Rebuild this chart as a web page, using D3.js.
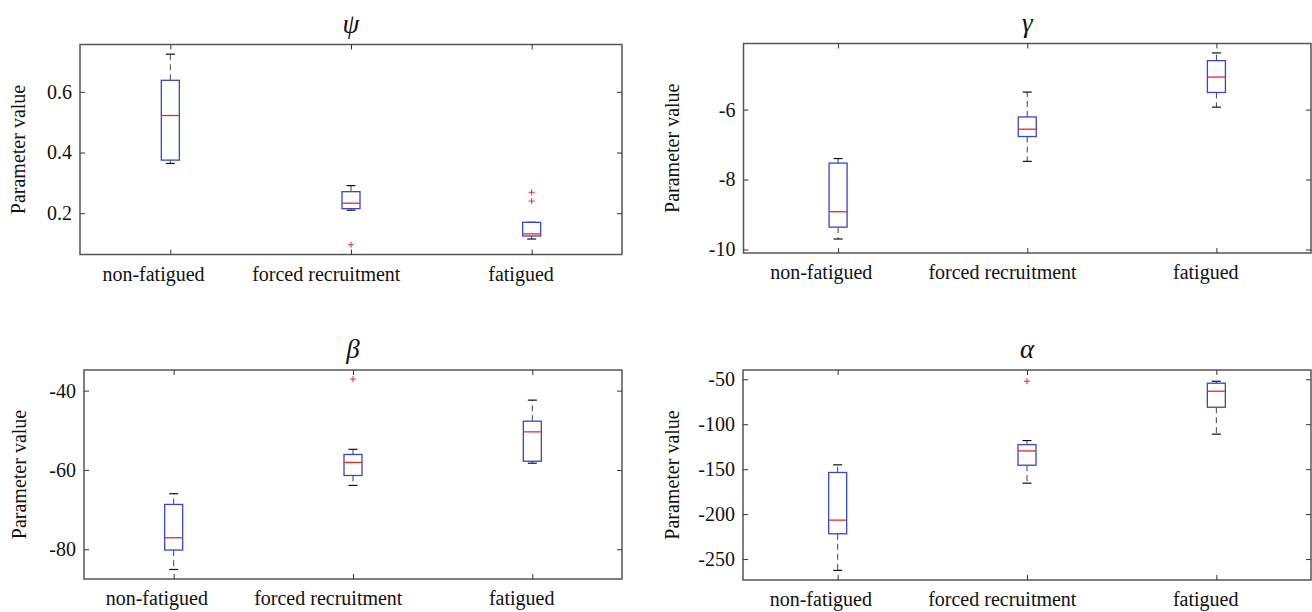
<!DOCTYPE html>
<html>
<head>
  <meta charset="utf-8">
  <title>Parameter boxplots</title>
  <script src="https://d3js.org/d3.v7.min.js"></script>
  <style>
    body { margin: 0; background: white; }
    svg text { font-family: "Liberation Serif", "Times New Roman", Times, serif; fill: #111; }
    .axis .domain { display: none; }
    .axis .tick line { stroke: #333; stroke-width: 1; }
  </style>
</head>
<body>
<div id="output"></div>

<script type="text/javascript">

  var categories = ["non-fatigued", "forced recruitment", "fatigued"];

  // each group: [lower whisker, q1, median, q3, upper whisker]
  var psiBoxes = [[0.364, 0.375, 0.522, 0.638, 0.724],
                  [0.210, 0.215, 0.233, 0.271, 0.291],
                  [0.115, 0.125, 0.132, 0.170, 0.170]];
  var psiOutliers = [[], [0.096], [0.240, 0.269]];
  var psiTicks = [0.2, 0.4, 0.6];
  var psiTickLabels = ["0.2", "0.4", "0.6"];
  var psiLimits = [0.064, 0.756];

  var gammaBoxes = [[-9.70, -9.36, -8.92, -7.53, -7.40],
                    [-7.48, -6.77, -6.56, -6.21, -5.50],
                    [-5.93, -5.51, -5.07, -4.60, -4.38]];
  var gammaOutliers = [[], [], []];
  var gammaTicks = [-10, -8, -6];
  var gammaTickLabels = ["-10", "-8", "-6"];
  var gammaLimits = [-10.1, -4.11];

  var betaBoxes = [[-85.1, -80.2, -77.1, -68.7, -66.0],
                   [-63.9, -61.4, -58.1, -56.1, -54.8],
                   [-58.3, -57.8, -50.4, -47.7, -42.4]];
  var betaOutliers = [[], [-37.1], []];
  var betaTicks = [-80, -60, -40];
  var betaTickLabels = ["-80", "-60", "-40"];
  var betaLimits = [-87.5, -34.8];

  var alphaBoxes = [[-262.6, -221.9, -206.7, -153.7, -145.2],
                    [-165.6, -145.6, -129.7, -122.7, -118.2],
                    [-111.1, -81.1, -63.3, -54.4, -52.2]];
  var alphaOutliers = [[], [-52.2], []];
  var alphaTicks = [-250, -200, -150, -100, -50];
  var alphaTickLabels = ["-250", "-200", "-150", "-100", "-50"];
  var alphaLimits = [-273.3, -39.7];

  var w = 1312;
  var h = 612;
  var serif = "'Liberation Serif', 'Times New Roman', Times, serif";

  var svg = d3.select("#output").append("svg")
          .attr("width", w)
          .attr("height", h);

  var panels = [
    {title: "ψ", boxes: psiBoxes, outliers: psiOutliers, ticks: psiTicks, labels: psiTickLabels, limits: psiLimits,
      left: 80, right: 622, top: 44.5, bottom: 254.5, labelX: 25},
    {title: "γ", boxes: gammaBoxes, outliers: gammaOutliers, ticks: gammaTicks, labels: gammaTickLabels, limits: gammaLimits,
      left: 743.5, right: 1311, top: 43.5, bottom: 253, labelX: 679},
    {title: "β", boxes: betaBoxes, outliers: betaOutliers, ticks: betaTicks, labels: betaTickLabels, limits: betaLimits,
      left: 84, right: 622, top: 370, bottom: 579, labelX: 26},
    {title: "α", boxes: alphaBoxes, outliers: alphaOutliers, ticks: alphaTicks, labels: alphaTickLabels, limits: alphaLimits,
      left: 743, right: 1311, top: 370, bottom: 580, labelX: 679}
  ];

  var boxW = 18;
  var capW = 9;
  var boxColor = "#3646c8";
  var medianColor = "#e8282c";

  panels.forEach(drawPanel);

  function drawPanel(p) {
    var x = d3.scalePoint()
            .domain(categories)
            .range([p.left, p.right])
            .padding(0.5);

    var y = d3.scaleLinear()
            .domain(p.limits)
            .range([p.bottom, p.top]);

    var g = svg.append("g");

    // frame
    g.append("rect")
            .attr("x", p.left)
            .attr("y", p.top)
            .attr("width", p.right - p.left)
            .attr("height", p.bottom - p.top)
            .attr("fill", "none")
            .attr("stroke", "#555")
            .attr("stroke-width", 1.5);

    var fmt = function(d, i) { return p.labels[i]; };

    g.append("g")
            .attr("class", "axis")
            .attr("transform", "translate(" + p.left + ",0)")
            .call(d3.axisLeft(y).tickValues(p.ticks).tickFormat(fmt).tickSize(-5).tickPadding(8))
            .attr("font-family", null)
            .selectAll("text")
            .style("font-family", serif)
            .style("font-size", "20px");

    g.append("g")
            .attr("class", "axis")
            .attr("transform", "translate(" + p.right + ",0)")
            .call(d3.axisRight(y).tickValues(p.ticks).tickFormat("").tickSize(-5));

    g.append("g")
            .attr("class", "axis")
            .attr("transform", "translate(0," + p.top + ")")
            .call(d3.axisTop(x).tickFormat("").tickSize(-5));

    g.append("g")
            .attr("class", "axis")
            .attr("transform", "translate(0," + p.bottom + ")")
            .call(d3.axisBottom(x).tickSize(-5).tickPadding(12))
            .attr("font-family", null)
            .selectAll("text")
            .style("font-family", serif)
            .style("font-size", "20px")
            .attr("x", function() { return -0.17 * this.getComputedTextLength(); });

    // title
    g.append("text")
            .attr("x", (p.left + p.right) / 2)
            .attr("y", p.top - 12)
            .attr("text-anchor", "middle")
            .style("font-family", serif)
            .style("font-size", "27px")
            .style("font-style", "italic")
            .text(p.title);

    // y label
    g.append("text")
            .attr("transform", "translate(" + p.labelX + "," + ((p.top + p.bottom) / 2) + ") rotate(-90)")
            .attr("text-anchor", "middle")
            .style("font-family", serif)
            .style("font-size", "20px")
            .text("Parameter value");

    var groups = g.selectAll(".box")
            .data(p.boxes)
            .enter()
            .append("g")
            .attr("class", "box")
            .attr("transform", function(d, i) { return "translate(" + x(categories[i]) + ",0)"; });

    // whiskers
    groups.append("line")
            .attr("y1", function(d) { return y(d[3]); })
            .attr("y2", function(d) { return y(d[4]); })
            .attr("stroke", "#444")
            .attr("stroke-dasharray", "6,4");
    groups.append("line")
            .attr("y1", function(d) { return y(d[1]); })
            .attr("y2", function(d) { return y(d[0]); })
            .attr("stroke", "#444")
            .attr("stroke-dasharray", "6,4");

    // caps
    groups.selectAll(".cap")
            .data(function(d) { return [d[0], d[4]]; })
            .enter()
            .append("line")
            .attr("class", "cap")
            .attr("x1", -capW / 2)
            .attr("x2", capW / 2)
            .attr("y1", function(v) { return y(v); })
            .attr("y2", function(v) { return y(v); })
            .attr("stroke", "#111")
            .attr("stroke-width", 1.2);

    groups.append("rect")
            .attr("x", -boxW / 2)
            .attr("width", boxW)
            .attr("y", function(d) { return y(d[3]); })
            .attr("height", function(d) { return y(d[1]) - y(d[3]); })
            .attr("fill", "none")
            .attr("stroke", boxColor)
            .attr("stroke-width", 1.3);

    groups.append("line")
            .attr("x1", -boxW / 2)
            .attr("x2", boxW / 2)
            .attr("y1", function(d) { return y(d[2]); })
            .attr("y2", function(d) { return y(d[2]); })
            .attr("stroke", medianColor)
            .attr("stroke-width", 1.3);

    // outliers
    groups.selectAll(".outlier")
            .data(function(d, i) { return p.outliers[i]; })
            .enter()
            .append("path")
            .attr("class", "outlier")
            .attr("d", function(v) {
              var cy = y(v);
              return "M-3," + cy + "H3M0," + (cy - 3) + "V" + (cy + 3);
            })
            .attr("stroke", medianColor)
            .attr("stroke-width", 1);
  }

</script>

</body>
</html>
